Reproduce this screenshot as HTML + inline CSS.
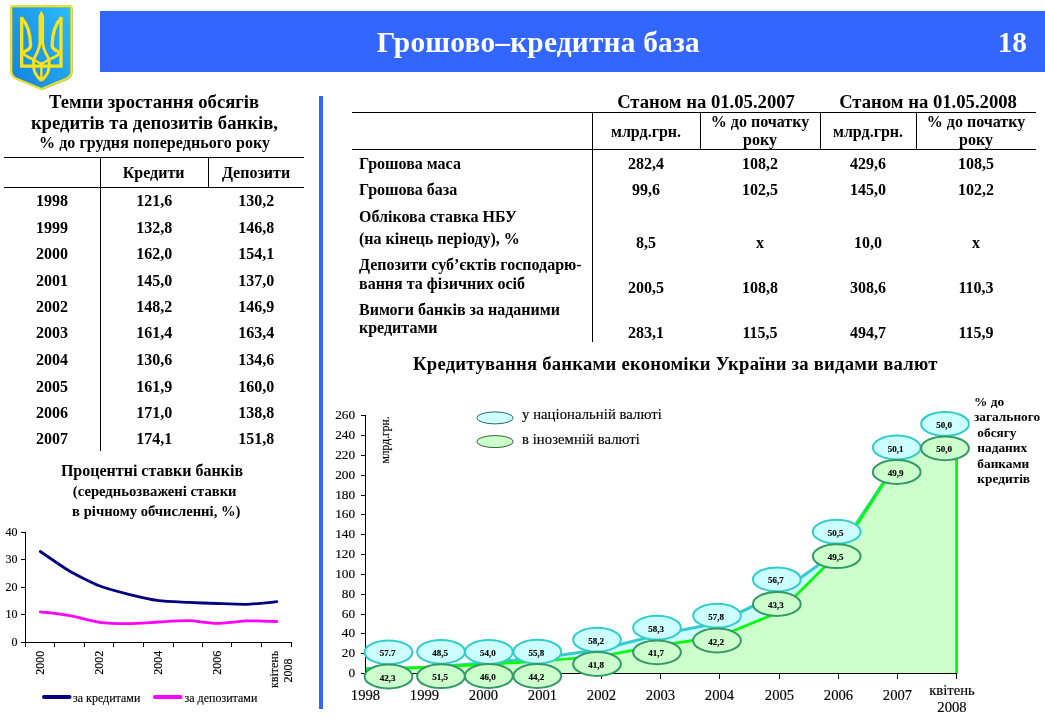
<!DOCTYPE html>
<html lang="uk"><head><meta charset="utf-8"><title>Грошово–кредитна база</title>
<style>
html,body{margin:0;padding:0;background:#fff;}
body{width:1045px;height:719px;position:relative;overflow:hidden;font-family:"Liberation Serif",serif;color:#000;}
.t{position:absolute;white-space:nowrap;line-height:1.15;}
.hl{position:absolute;height:1px;background:#000;}
.vl{position:absolute;width:1px;background:#000;}
svg{position:absolute;left:0;top:0;}
svg text{font-family:"Liberation Serif",serif;stroke:#000;stroke-width:0.15px;}
</style></head><body>
<svg width="1045" height="719" viewBox="0 0 1045 719">
<defs>
<linearGradient id="sh" x1="0" y1="0.8" x2="1" y2="0.05"><stop offset="0" stop-color="#1686e0"/><stop offset="0.5" stop-color="#1f9feb"/><stop offset="1" stop-color="#2cbcf8"/></linearGradient>
</defs>
<path d="M11.3 7.6 Q11.3 6.3 12.6 6.3 H70.1 Q71.4 6.3 71.4 7.6 V71 Q71.4 76.3 66 78.8 L41.4 89 L16.7 78.8 Q11.3 76.3 11.3 71 Z" transform="translate(1.2,1.1)" fill="#6e6e2a" opacity="0.55"/>
<path d="M11.3 7.6 Q11.3 6.3 12.6 6.3 H70.1 Q71.4 6.3 71.4 7.6 V71 Q71.4 76.3 66 78.8 L41.4 89 L16.7 78.8 Q11.3 76.3 11.3 71 Z" fill="url(#sh)" stroke="#d2cc24" stroke-width="2.3" stroke-linejoin="round"/>
<path d="M11.3 7.6 Q11.3 6.3 12.6 6.3 H70.1 Q71.4 6.3 71.4 7.6 V71 Q71.4 76.3 66 78.8 L41.4 89 L16.7 78.8 Q11.3 76.3 11.3 71 Z" fill="none" stroke="#f6ea2a" stroke-width="1.1" stroke-linejoin="round"/>
<g fill="none" stroke="#fae31a" stroke-width="3.3" stroke-linejoin="miter" stroke-linecap="butt">
<path d="M21.7 17 V66.2 H61 V17"/>
<path d="M21.0 17.4 C26.5 23 30.4 30 30.6 45.5 C30.6 48.5 27.5 50.5 23.3 52"/>
<path d="M23 53 C25.5 56.5 30 58 33.6 59.5 V66 C33.6 72 37 77 41.35 80.6" stroke-width="2.9"/>
<path d="M41.35 36 C40.5 46 37.5 53 33.8 59" stroke-width="2.9"/>
<path d="M34.5 60 L41.35 64.3" stroke-width="2.2"/>
<path d="M61.7 17.4 C56.2 23 52.300000000000004 30 52.1 45.5 C52.1 48.5 55.2 50.5 59.400000000000006 52"/>
<path d="M59.7 53 C57.2 56.5 52.7 58 49.1 59.5 V66 C49.1 72 45.7 77 41.35 80.6" stroke-width="2.9"/>
<path d="M41.35 36 C42.2 46 45.2 53 48.900000000000006 59" stroke-width="2.9"/>
<path d="M48.2 60 L41.35 64.3" stroke-width="2.2"/>
<path d="M41.35 62 V80" stroke-width="2.4"/>
</g>
<path d="M41.35 10.6 L44.1 16 V44 H38.6 V16 Z" fill="#fae31a"/>
<g stroke="#000" stroke-width="1" fill="none" shape-rendering="crispEdges">
<path d="M25.5 532 V642.5 H292"/>
<path d="M20.5 642.5 H25.5"/>
<path d="M20.5 614.5 H25.5"/>
<path d="M20.5 587.5 H25.5"/>
<path d="M20.5 559.5 H25.5"/>
<path d="M20.5 532.5 H25.5"/>
<path d="M25.5 642.5 V647.0"/>
<path d="M54.5 642.5 V647.0"/>
<path d="M84.5 642.5 V647.0"/>
<path d="M113.5 642.5 V647.0"/>
<path d="M143.5 642.5 V647.0"/>
<path d="M173.5 642.5 V647.0"/>
<path d="M202.5 642.5 V647.0"/>
<path d="M231.5 642.5 V647.0"/>
<path d="M261.5 642.5 V647.0"/>
<path d="M291.5 642.5 V647.0"/>
</g>
<text x="17.4" y="645.9" font-size="12" text-anchor="end">0</text>
<text x="17.4" y="617.9" font-size="12" text-anchor="end">10</text>
<text x="17.4" y="590.9" font-size="12" text-anchor="end">20</text>
<text x="17.4" y="562.9" font-size="12" text-anchor="end">30</text>
<text x="17.4" y="535.9" font-size="12" text-anchor="end">40</text>
<path d="M40.3 551.5 C43.2 553.5 63.9 567.7 69.8 571.2 C75.7 574.6 93.4 583.5 99.3 585.8 C105.2 588.1 122.9 592.9 128.8 594.4 C134.8 595.9 152.9 599.9 158.8 600.7 C164.8 601.6 182.5 602.1 188.3 602.4 C194.2 602.7 211.5 603.3 217.3 603.5 C223.2 603.7 240.9 604.5 246.8 604.3 C252.8 604.1 273.8 601.9 276.8 601.6" fill="none" stroke="#000080" stroke-width="2.8" stroke-linejoin="round" stroke-linecap="round"/>
<path d="M40.3 611.8 C43.2 612.2 63.9 614.6 69.8 615.7 C75.7 616.7 93.4 621.5 99.3 622.3 C105.2 623.1 122.9 623.7 128.8 623.7 C134.8 623.7 152.9 622.3 158.8 622.0 C164.8 621.7 182.5 620.5 188.3 620.7 C194.2 620.8 211.5 623.4 217.3 623.4 C223.2 623.4 240.9 621.1 246.8 620.9 C252.8 620.7 273.8 621.4 276.8 621.5" fill="none" stroke="#ff00ff" stroke-width="2.8" stroke-linejoin="round" stroke-linecap="round"/>
<text transform="translate(43.9,650.8) rotate(-90)" font-size="12" text-anchor="end">2000</text>
<text transform="translate(102.9,650.8) rotate(-90)" font-size="12" text-anchor="end">2002</text>
<text transform="translate(162.4,650.8) rotate(-90)" font-size="12" text-anchor="end">2004</text>
<text transform="translate(220.9,650.8) rotate(-90)" font-size="12" text-anchor="end">2006</text>
<text transform="translate(277.5,650.8) rotate(-90)" font-size="12" text-anchor="end">квітень</text>
<text transform="translate(291.8,658.5) rotate(-90)" font-size="12" text-anchor="end">2008</text>
<path d="M44 697 H69.5" stroke="#000080" stroke-width="4" stroke-linecap="round"/>
<text x="73" y="702" font-size="12">за кредитами</text>
<path d="M155 697 H180.5" stroke="#ff00ff" stroke-width="4" stroke-linecap="round"/>
<text x="184.5" y="702" font-size="12">за депозитами</text>
<path d="M365.5 673.5 L365.5 668.4 L424.5 667.8 L483.5 663.0 L542.5 657.8 L601.5 649.2 L660.5 634.3 L719.5 622.7 L779.5 592.8 L838.5 550.7 L897.5 461.2 L956.5 428.0 L956.5 673.5 Z" fill="#ccffff"/>
<path d="M365.5 668.4 L424.5 667.8 L483.5 663.0 L542.5 657.8 L601.5 649.2 L660.5 634.3 L719.5 622.7 L779.5 592.8 L838.5 550.7 L897.5 461.2 L948.5 432.6 M956.5 441 V673.5" fill="none" stroke="#33cccc" stroke-width="3" stroke-linejoin="round"/>
<path d="M365.5 673.5 L365.5 669.7 L424.5 667.4 L483.5 664.6 L542.5 661.0 L601.5 656.0 L660.5 645.4 L719.5 636.4 L779.5 611.9 L838.5 553.0 L897.5 462.1 L956.5 428.0 L956.5 673.5 Z" fill="#ccffcc"/>
<path d="M365.5 669.7 L424.5 667.4 L483.5 664.6 L542.5 661.0 L601.5 656.0 L660.5 645.4 L719.5 636.4 L779.5 611.9 L838.5 553.0 L897.5 462.1 L948.5 432.6 M956.5 441 V673.5" fill="none" stroke="#00ff00" stroke-width="2.7" stroke-linejoin="round"/>
<g stroke="#000" stroke-width="1" fill="none" shape-rendering="crispEdges">
<path d="M365.5 415 V673.5 H957"/>
<path d="M361 673.5 H365.5"/>
<path d="M361 653.5 H365.5"/>
<path d="M361 633.5 H365.5"/>
<path d="M361 614.5 H365.5"/>
<path d="M361 594.5 H365.5"/>
<path d="M361 574.5 H365.5"/>
<path d="M361 554.5 H365.5"/>
<path d="M361 534.5 H365.5"/>
<path d="M361 514.5 H365.5"/>
<path d="M361 495.5 H365.5"/>
<path d="M361 475.5 H365.5"/>
<path d="M361 455.5 H365.5"/>
<path d="M361 435.5 H365.5"/>
<path d="M361 415.5 H365.5"/>
<path d="M365.5 673.5 V679"/>
<path d="M424.5 673.5 V679"/>
<path d="M483.5 673.5 V679"/>
<path d="M542.5 673.5 V679"/>
<path d="M601.5 673.5 V679"/>
<path d="M660.5 673.5 V679"/>
<path d="M719.5 673.5 V679"/>
<path d="M779.5 673.5 V679"/>
<path d="M838.5 673.5 V679"/>
<path d="M897.5 673.5 V679"/>
<path d="M956.5 673.5 V679"/>
</g>
<text x="355.2" y="677.4" font-size="13.33" text-anchor="end">0</text>
<text x="355.2" y="657.4" font-size="13.33" text-anchor="end">20</text>
<text x="355.2" y="637.4" font-size="13.33" text-anchor="end">40</text>
<text x="355.2" y="618.4" font-size="13.33" text-anchor="end">60</text>
<text x="355.2" y="598.4" font-size="13.33" text-anchor="end">80</text>
<text x="355.2" y="578.4" font-size="13.33" text-anchor="end">100</text>
<text x="355.2" y="558.4" font-size="13.33" text-anchor="end">120</text>
<text x="355.2" y="538.4" font-size="13.33" text-anchor="end">140</text>
<text x="355.2" y="518.4" font-size="13.33" text-anchor="end">160</text>
<text x="355.2" y="499.4" font-size="13.33" text-anchor="end">180</text>
<text x="355.2" y="479.4" font-size="13.33" text-anchor="end">200</text>
<text x="355.2" y="459.4" font-size="13.33" text-anchor="end">220</text>
<text x="355.2" y="439.4" font-size="13.33" text-anchor="end">240</text>
<text x="355.2" y="419.4" font-size="13.33" text-anchor="end">260</text>
<text x="365.5" y="700" font-size="14.67" text-anchor="middle">1998</text>
<text x="424.5" y="700" font-size="14.67" text-anchor="middle">1999</text>
<text x="483.5" y="700" font-size="14.67" text-anchor="middle">2000</text>
<text x="542.5" y="700" font-size="14.67" text-anchor="middle">2001</text>
<text x="601.5" y="700" font-size="14.67" text-anchor="middle">2002</text>
<text x="660.5" y="700" font-size="14.67" text-anchor="middle">2003</text>
<text x="719.5" y="700" font-size="14.67" text-anchor="middle">2004</text>
<text x="779.5" y="700" font-size="14.67" text-anchor="middle">2005</text>
<text x="838.5" y="700" font-size="14.67" text-anchor="middle">2006</text>
<text x="897.5" y="700" font-size="14.67" text-anchor="middle">2007</text>
<text x="952" y="695" font-size="14.67" text-anchor="middle">квітень</text>
<text x="952" y="712.4" font-size="14.67" text-anchor="middle">2008</text>
<text transform="translate(389.2,463.5) rotate(-90)" font-size="11.6">млрд.грн.</text>
<ellipse cx="495" cy="417.9" rx="18.2" ry="6" fill="#ccffff" stroke="#336666" stroke-width="1"/>
<ellipse cx="495" cy="441.6" rx="18.2" ry="6" fill="#ccffcc" stroke="#336633" stroke-width="1"/>
<text x="522" y="418.6" font-size="14.67" letter-spacing="0.07">у національній валюті</text>
<text x="522" y="444" font-size="14.67" letter-spacing="0.07">в іноземній валюті</text>
<ellipse cx="388.5" cy="652.3" rx="23.9" ry="11.9" fill="#ccffff" stroke="#33cccc" stroke-width="2"/>
<ellipse cx="388.5" cy="676.5" rx="23.9" ry="11.9" fill="#ccffcc" stroke="#339966" stroke-width="2"/>
<text x="387.5" y="656.3" font-size="9" font-weight="bold" text-anchor="middle">57.7</text>
<text x="387.5" y="680.5" font-size="9" font-weight="bold" text-anchor="middle">42,3</text>
<ellipse cx="441" cy="651.8" rx="23.9" ry="11.9" fill="#ccffff" stroke="#33cccc" stroke-width="2"/>
<ellipse cx="441" cy="676.2" rx="23.9" ry="11.9" fill="#ccffcc" stroke="#339966" stroke-width="2"/>
<text x="440.0" y="655.8" font-size="9" font-weight="bold" text-anchor="middle">48,5</text>
<text x="440.0" y="680.2" font-size="9" font-weight="bold" text-anchor="middle">51,5</text>
<ellipse cx="488.8" cy="652" rx="23.9" ry="11.9" fill="#ccffff" stroke="#33cccc" stroke-width="2"/>
<ellipse cx="488.8" cy="676" rx="23.9" ry="11.9" fill="#ccffcc" stroke="#339966" stroke-width="2"/>
<text x="487.8" y="656.0" font-size="9" font-weight="bold" text-anchor="middle">54,0</text>
<text x="487.8" y="680.0" font-size="9" font-weight="bold" text-anchor="middle">46,0</text>
<ellipse cx="537.3" cy="651.7" rx="23.9" ry="11.9" fill="#ccffff" stroke="#33cccc" stroke-width="2"/>
<ellipse cx="537.3" cy="676" rx="23.9" ry="11.9" fill="#ccffcc" stroke="#339966" stroke-width="2"/>
<text x="536.3" y="655.7" font-size="9" font-weight="bold" text-anchor="middle">55,8</text>
<text x="536.3" y="680.0" font-size="9" font-weight="bold" text-anchor="middle">44,2</text>
<ellipse cx="597" cy="639.7" rx="23.9" ry="11.9" fill="#ccffff" stroke="#33cccc" stroke-width="2"/>
<ellipse cx="597" cy="664" rx="23.9" ry="11.9" fill="#ccffcc" stroke="#339966" stroke-width="2"/>
<text x="596.0" y="643.7" font-size="9" font-weight="bold" text-anchor="middle">58,2</text>
<text x="596.0" y="668.0" font-size="9" font-weight="bold" text-anchor="middle">41,8</text>
<ellipse cx="657" cy="627.7" rx="23.9" ry="11.9" fill="#ccffff" stroke="#33cccc" stroke-width="2"/>
<ellipse cx="657" cy="652.3" rx="23.9" ry="11.9" fill="#ccffcc" stroke="#339966" stroke-width="2"/>
<text x="656.0" y="631.7" font-size="9" font-weight="bold" text-anchor="middle">58,3</text>
<text x="656.0" y="656.3" font-size="9" font-weight="bold" text-anchor="middle">41,7</text>
<ellipse cx="717" cy="615.7" rx="23.9" ry="11.9" fill="#ccffff" stroke="#33cccc" stroke-width="2"/>
<ellipse cx="717" cy="640.5" rx="23.9" ry="11.9" fill="#ccffcc" stroke="#339966" stroke-width="2"/>
<text x="716.0" y="619.7" font-size="9" font-weight="bold" text-anchor="middle">57,8</text>
<text x="716.0" y="644.5" font-size="9" font-weight="bold" text-anchor="middle">42,2</text>
<ellipse cx="776.8" cy="579.4" rx="23.9" ry="11.9" fill="#ccffff" stroke="#33cccc" stroke-width="2"/>
<ellipse cx="776.8" cy="604" rx="23.9" ry="11.9" fill="#ccffcc" stroke="#339966" stroke-width="2"/>
<text x="775.8" y="583.4" font-size="9" font-weight="bold" text-anchor="middle">56,7</text>
<text x="775.8" y="608.0" font-size="9" font-weight="bold" text-anchor="middle">43,3</text>
<ellipse cx="836.7" cy="531.7" rx="23.9" ry="11.9" fill="#ccffff" stroke="#33cccc" stroke-width="2"/>
<ellipse cx="836.7" cy="556.2" rx="23.9" ry="11.9" fill="#ccffcc" stroke="#339966" stroke-width="2"/>
<text x="835.7" y="535.7" font-size="9" font-weight="bold" text-anchor="middle">50,5</text>
<text x="835.7" y="560.2" font-size="9" font-weight="bold" text-anchor="middle">49,5</text>
<ellipse cx="896.7" cy="447.5" rx="23.9" ry="11.9" fill="#ccffff" stroke="#33cccc" stroke-width="2"/>
<ellipse cx="896.7" cy="472" rx="23.9" ry="11.9" fill="#ccffcc" stroke="#339966" stroke-width="2"/>
<text x="895.7" y="451.5" font-size="9" font-weight="bold" text-anchor="middle">50,1</text>
<text x="895.7" y="476.0" font-size="9" font-weight="bold" text-anchor="middle">49,9</text>
<ellipse cx="945" cy="423.9" rx="23.9" ry="11.9" fill="#ccffff" stroke="#33cccc" stroke-width="2"/>
<ellipse cx="945" cy="448.3" rx="23.9" ry="11.9" fill="#ccffcc" stroke="#339966" stroke-width="2"/>
<text x="944.0" y="427.9" font-size="9" font-weight="bold" text-anchor="middle">50,0</text>
<text x="944.0" y="452.3" font-size="9" font-weight="bold" text-anchor="middle">50,0</text>
</svg>
<div style="position:absolute;left:100px;top:11px;width:945px;height:61px;background:#3366ff;"></div>
<div class="t" style="left:538.4px;top:26.00px;font-size:29.33px;font-weight:bold;transform:translateX(-50%);color:#fff;letter-spacing:0.24px;">Грошово–кредитна база</div>
<div class="t" style="left:1027px;top:26.00px;font-size:29.33px;font-weight:bold;transform:translateX(-100%);color:#fff;">18</div>
<div style="position:absolute;left:319px;top:96px;width:4px;height:613px;background:#3366ff;"></div>
<div class="t" style="left:154px;top:91.00px;font-size:18.67px;font-weight:bold;transform:translateX(-50%);color:#000;">Темпи зростання обсягів</div>
<div class="t" style="left:154.4px;top:112.00px;font-size:18.67px;font-weight:bold;transform:translateX(-50%);color:#000;">кредитів та депозитів банків,</div>
<div class="t" style="left:154.6px;top:134.00px;font-size:16px;font-weight:bold;transform:translateX(-50%);color:#000;letter-spacing:0.08px;">% до грудня попереднього року</div>
<div class="hl" style="left:4px;top:157px;width:300px;"></div>
<div class="hl" style="left:4px;top:187px;width:300px;"></div>
<div class="vl" style="left:100px;top:157px;height:294px;"></div>
<div class="vl" style="left:208px;top:157px;height:30px;"></div>
<div class="t" style="left:153.6px;top:164.00px;font-size:16px;font-weight:bold;transform:translateX(-50%);color:#000;">Кредити</div>
<div class="t" style="left:256px;top:164.00px;font-size:16px;font-weight:bold;transform:translateX(-50%);color:#000;">Депозити</div>
<div class="t" style="left:52.1px;top:192.00px;font-size:16px;font-weight:bold;transform:translateX(-50%);color:#000;">1998</div>
<div class="t" style="left:154.2px;top:192.00px;font-size:16px;font-weight:bold;transform:translateX(-50%);color:#000;">121,6</div>
<div class="t" style="left:256.2px;top:192.00px;font-size:16px;font-weight:bold;transform:translateX(-50%);color:#000;">130,2</div>
<div class="t" style="left:52.1px;top:219.00px;font-size:16px;font-weight:bold;transform:translateX(-50%);color:#000;">1999</div>
<div class="t" style="left:154.2px;top:219.00px;font-size:16px;font-weight:bold;transform:translateX(-50%);color:#000;">132,8</div>
<div class="t" style="left:256.2px;top:219.00px;font-size:16px;font-weight:bold;transform:translateX(-50%);color:#000;">146,8</div>
<div class="t" style="left:52.1px;top:245.00px;font-size:16px;font-weight:bold;transform:translateX(-50%);color:#000;">2000</div>
<div class="t" style="left:154.2px;top:245.00px;font-size:16px;font-weight:bold;transform:translateX(-50%);color:#000;">162,0</div>
<div class="t" style="left:256.2px;top:245.00px;font-size:16px;font-weight:bold;transform:translateX(-50%);color:#000;">154,1</div>
<div class="t" style="left:52.1px;top:272.00px;font-size:16px;font-weight:bold;transform:translateX(-50%);color:#000;">2001</div>
<div class="t" style="left:154.2px;top:272.00px;font-size:16px;font-weight:bold;transform:translateX(-50%);color:#000;">145,0</div>
<div class="t" style="left:256.2px;top:272.00px;font-size:16px;font-weight:bold;transform:translateX(-50%);color:#000;">137,0</div>
<div class="t" style="left:52.1px;top:298.00px;font-size:16px;font-weight:bold;transform:translateX(-50%);color:#000;">2002</div>
<div class="t" style="left:154.2px;top:298.00px;font-size:16px;font-weight:bold;transform:translateX(-50%);color:#000;">148,2</div>
<div class="t" style="left:256.2px;top:298.00px;font-size:16px;font-weight:bold;transform:translateX(-50%);color:#000;">146,9</div>
<div class="t" style="left:52.1px;top:324.00px;font-size:16px;font-weight:bold;transform:translateX(-50%);color:#000;">2003</div>
<div class="t" style="left:154.2px;top:324.00px;font-size:16px;font-weight:bold;transform:translateX(-50%);color:#000;">161,4</div>
<div class="t" style="left:256.2px;top:324.00px;font-size:16px;font-weight:bold;transform:translateX(-50%);color:#000;">163,4</div>
<div class="t" style="left:52.1px;top:351.00px;font-size:16px;font-weight:bold;transform:translateX(-50%);color:#000;">2004</div>
<div class="t" style="left:154.2px;top:351.00px;font-size:16px;font-weight:bold;transform:translateX(-50%);color:#000;">130,6</div>
<div class="t" style="left:256.2px;top:351.00px;font-size:16px;font-weight:bold;transform:translateX(-50%);color:#000;">134,6</div>
<div class="t" style="left:52.1px;top:378.00px;font-size:16px;font-weight:bold;transform:translateX(-50%);color:#000;">2005</div>
<div class="t" style="left:154.2px;top:378.00px;font-size:16px;font-weight:bold;transform:translateX(-50%);color:#000;">161,9</div>
<div class="t" style="left:256.2px;top:378.00px;font-size:16px;font-weight:bold;transform:translateX(-50%);color:#000;">160,0</div>
<div class="t" style="left:52.1px;top:404.00px;font-size:16px;font-weight:bold;transform:translateX(-50%);color:#000;">2006</div>
<div class="t" style="left:154.2px;top:404.00px;font-size:16px;font-weight:bold;transform:translateX(-50%);color:#000;">171,0</div>
<div class="t" style="left:256.2px;top:404.00px;font-size:16px;font-weight:bold;transform:translateX(-50%);color:#000;">138,8</div>
<div class="t" style="left:52.1px;top:430.00px;font-size:16px;font-weight:bold;transform:translateX(-50%);color:#000;">2007</div>
<div class="t" style="left:154.2px;top:430.00px;font-size:16px;font-weight:bold;transform:translateX(-50%);color:#000;">174,1</div>
<div class="t" style="left:256.2px;top:430.00px;font-size:16px;font-weight:bold;transform:translateX(-50%);color:#000;">151,8</div>
<div class="t" style="left:152px;top:462.00px;font-size:16px;font-weight:bold;transform:translateX(-50%);color:#000;">Процентні ставки банків</div>
<div class="t" style="left:154.7px;top:483.00px;font-size:14.67px;font-weight:bold;transform:translateX(-50%);color:#000;">(середньозважені ставки</div>
<div class="t" style="left:156.3px;top:503.00px;font-size:14.67px;font-weight:bold;transform:translateX(-50%);color:#000;">в річному обчисленні, %)</div>
<div class="t" style="left:706px;top:91.00px;font-size:18.67px;font-weight:bold;transform:translateX(-50%);color:#000;">Станом на 01.05.2007</div>
<div class="t" style="left:928px;top:91.00px;font-size:18.67px;font-weight:bold;transform:translateX(-50%);color:#000;">Станом на 01.05.2008</div>
<div class="hl" style="left:352px;top:112px;width:684px;"></div>
<div class="hl" style="left:352px;top:149px;width:684px;"></div>
<div class="vl" style="left:592px;top:112px;height:230px;"></div>
<div class="vl" style="left:700px;top:112px;height:37px;"></div>
<div class="vl" style="left:820px;top:112px;height:37px;"></div>
<div class="vl" style="left:916px;top:112px;height:37px;"></div>
<div class="t" style="left:646px;top:123.00px;font-size:16px;font-weight:bold;transform:translateX(-50%);color:#000;">млрд.грн.</div>
<div class="t" style="left:868px;top:123.00px;font-size:16px;font-weight:bold;transform:translateX(-50%);color:#000;">млрд.грн.</div>
<div class="t" style="left:760px;top:113.00px;font-size:16px;font-weight:bold;transform:translateX(-50%);color:#000;">% до початку</div>
<div class="t" style="left:760px;top:131.00px;font-size:16px;font-weight:bold;transform:translateX(-50%);color:#000;">року</div>
<div class="t" style="left:976px;top:113.00px;font-size:16px;font-weight:bold;transform:translateX(-50%);color:#000;">% до початку</div>
<div class="t" style="left:976px;top:131.00px;font-size:16px;font-weight:bold;transform:translateX(-50%);color:#000;">року</div>
<div class="t" style="left:359px;top:155.00px;font-size:16px;font-weight:bold;color:#000;">Грошова маса</div>
<div class="t" style="left:646px;top:155.00px;font-size:16px;font-weight:bold;transform:translateX(-50%);color:#000;">282,4</div>
<div class="t" style="left:760px;top:155.00px;font-size:16px;font-weight:bold;transform:translateX(-50%);color:#000;">108,2</div>
<div class="t" style="left:868px;top:155.00px;font-size:16px;font-weight:bold;transform:translateX(-50%);color:#000;">429,6</div>
<div class="t" style="left:976px;top:155.00px;font-size:16px;font-weight:bold;transform:translateX(-50%);color:#000;">108,5</div>
<div class="t" style="left:359px;top:181.00px;font-size:16px;font-weight:bold;color:#000;">Грошова база</div>
<div class="t" style="left:646px;top:181.00px;font-size:16px;font-weight:bold;transform:translateX(-50%);color:#000;">99,6</div>
<div class="t" style="left:760px;top:181.00px;font-size:16px;font-weight:bold;transform:translateX(-50%);color:#000;">102,5</div>
<div class="t" style="left:868px;top:181.00px;font-size:16px;font-weight:bold;transform:translateX(-50%);color:#000;">145,0</div>
<div class="t" style="left:976px;top:181.00px;font-size:16px;font-weight:bold;transform:translateX(-50%);color:#000;">102,2</div>
<div class="t" style="left:359px;top:208.00px;font-size:16px;font-weight:bold;color:#000;">Облікова ставка НБУ</div>
<div class="t" style="left:359px;top:230.00px;font-size:16px;font-weight:bold;color:#000;">(на кінець періоду), %</div>
<div class="t" style="left:646px;top:234.00px;font-size:16px;font-weight:bold;transform:translateX(-50%);color:#000;">8,5</div>
<div class="t" style="left:760px;top:234.00px;font-size:16px;font-weight:bold;transform:translateX(-50%);color:#000;">х</div>
<div class="t" style="left:868px;top:234.00px;font-size:16px;font-weight:bold;transform:translateX(-50%);color:#000;">10,0</div>
<div class="t" style="left:976px;top:234.00px;font-size:16px;font-weight:bold;transform:translateX(-50%);color:#000;">х</div>
<div class="t" style="left:359px;top:256.00px;font-size:16px;font-weight:bold;color:#000;">Депозити суб’єктів господарю-</div>
<div class="t" style="left:359px;top:275.00px;font-size:16px;font-weight:bold;color:#000;">вання та фізичних осіб</div>
<div class="t" style="left:646px;top:279.00px;font-size:16px;font-weight:bold;transform:translateX(-50%);color:#000;">200,5</div>
<div class="t" style="left:760px;top:279.00px;font-size:16px;font-weight:bold;transform:translateX(-50%);color:#000;">108,8</div>
<div class="t" style="left:868px;top:279.00px;font-size:16px;font-weight:bold;transform:translateX(-50%);color:#000;">308,6</div>
<div class="t" style="left:976px;top:279.00px;font-size:16px;font-weight:bold;transform:translateX(-50%);color:#000;">110,3</div>
<div class="t" style="left:359px;top:301.00px;font-size:16px;font-weight:bold;color:#000;">Вимоги банків за наданими</div>
<div class="t" style="left:359px;top:319.00px;font-size:16px;font-weight:bold;color:#000;">кредитами</div>
<div class="t" style="left:646px;top:324.00px;font-size:16px;font-weight:bold;transform:translateX(-50%);color:#000;">283,1</div>
<div class="t" style="left:760px;top:324.00px;font-size:16px;font-weight:bold;transform:translateX(-50%);color:#000;">115,5</div>
<div class="t" style="left:868px;top:324.00px;font-size:16px;font-weight:bold;transform:translateX(-50%);color:#000;">494,7</div>
<div class="t" style="left:976px;top:324.00px;font-size:16px;font-weight:bold;transform:translateX(-50%);color:#000;">115,9</div>
<div class="t" style="left:413px;top:353.00px;font-size:18.67px;font-weight:bold;color:#000;letter-spacing:0.24px;">Кредитування банками економіки України за видами валют</div>
<div class="t" style="left:974px;top:394.00px;font-size:13.33px;font-weight:bold;color:#000;">% до</div>
<div class="t" style="left:974px;top:409.00px;font-size:13.33px;font-weight:bold;color:#000;">загального</div>
<div class="t" style="left:974px;top:425.00px;font-size:13.33px;font-weight:bold;color:#000;">&nbsp;обсягу</div>
<div class="t" style="left:974px;top:440.00px;font-size:13.33px;font-weight:bold;color:#000;">&nbsp;наданих</div>
<div class="t" style="left:974px;top:456.00px;font-size:13.33px;font-weight:bold;color:#000;">&nbsp;банками</div>
<div class="t" style="left:974px;top:471.00px;font-size:13.33px;font-weight:bold;color:#000;">&nbsp;кредитів</div>
</body></html>
